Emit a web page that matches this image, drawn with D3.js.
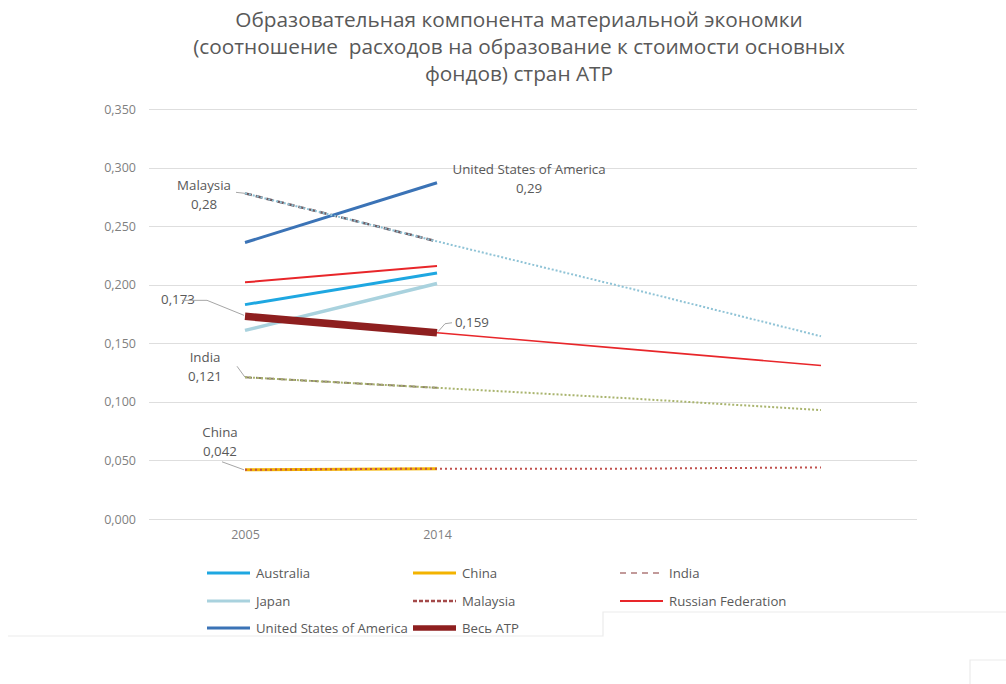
<!DOCTYPE html>
<html>
<head>
<meta charset="utf-8">
<script src="https://cdn.jsdelivr.net/npm/d3@7"></script>
<style>
  html, body { margin: 0; padding: 0; background: #fff; }
  svg { display: block; font-family: "Open Sans", "Noto Sans", sans-serif; }
</style>
</head>
<body>
<svg id="chart" width="1006" height="684"></svg>
<script>
// ---- data ----
const titleLines = [
  "Образовательная компонента материальной экономки",
  "(соотношение  расходов на образование к стоимости основных",
  "фондов) стран АТР"
];
const categories = ["2005", "2014", "p3", "p4"];
const tickLabels = ["2005", "2014"];
const yTicks = [0, 0.05, 0.10, 0.15, 0.20, 0.25, 0.30, 0.35];

const australia = [0.183, 0.210];
const china     = [0.042, 0.043];
const india     = [0.121, 0.112];
const japan     = [0.161, 0.201];
const malaysia  = [0.278, 0.237];
const russia    = [0.202, 0.216];
const usa       = [0.236, 0.287];
const apac      = [0.173, 0.159];

// trendlines (2005 .. two periods forward)
const malaysiaTrend = [0.278, 0.237, 0.197, 0.156];
const apacTrend     = [0.173, 0.159, 0.145, 0.131];
const indiaTrend    = [0.121, 0.112, 0.103, 0.093];
const chinaTrend    = [0.042, 0.043, 0.043, 0.044];

const seriesNames = ["Australia", "China", "India", "Japan", "Malaysia",
  "Russian Federation", "United States of America", "Весь АТР"];

// ---- styles ----
const styles = {
  "Australia":                {color: "#1ea7e1", width: 3,   dash: null},
  "China":                    {color: "#f3b300", width: 3,   dash: null},
  "India":                    {color: "#8c7f6a", width: 2,   dash: "7,4", legendColor: "#c29a9a", legendDash: "6,5"},
  "Japan":                    {color: "#a9d2de", width: 3.5, dash: null},
  "Malaysia":                 {color: "#6f5b62", width: 2.5, dash: "7,4", legendColor: "#a44a4a", legendDash: "4,2"},
  "Russian Federation":       {color: "#e8262a", width: 2,   dash: null},
  "United States of America": {color: "#3b73b6", width: 3,   dash: null},
  "Весь АТР":                 {color: "#8e1f1f", width: 7.5, dash: null, legendWidth: 5.5}
};
const seriesData = {
  "Australia": australia, "China": china, "India": india, "Japan": japan,
  "Malaysia": malaysia, "Russian Federation": russia,
  "United States of America": usa, "Весь АТР": apac
};
const drawOrder = ["Japan", "Australia", "Russian Federation", "Malaysia",
  "United States of America", "India", "China", "Весь АТР"];

const trends = [
  {values: malaysiaTrend, color: "#8fc3d6", width: 2, dash: "2,2", below: false},
  {values: apacTrend,     color: "#e8262a", width: 1.6, dash: null, below: true},
  {values: indiaTrend,    color: "#a9b46e", width: 2, dash: "2,2", below: false},
  {values: chinaTrend,    color: "#c0504d", width: 2, dash: "2,3", below: false}
];

// ---- layout ----
const svg = d3.select("#chart");
const x = d3.scalePoint().domain(categories).range([149, 917]).padding(0.5);
const y = d3.scaleLinear().domain([0, 0.35]).range([519, 109]);
const fmt = v => d3.format(".3f")(v).replace(".", ",");
const fmt2 = v => d3.format(".2f")(v).replace(".", ",");

// title
const title = svg.append("g");
titleLines.forEach((t, i) => {
  title.append("text")
    .attr("x", 519).attr("y", 27 + i * 27)
    .attr("text-anchor", "middle")
    .attr("fill", "#595959")
    .style("font-size", "20.8px")
    .style("white-space", "pre")
    .attr("xml:space", "preserve")
    .text(t);
});

// gridlines
svg.append("g").selectAll("line").data(yTicks).join("line")
  .attr("x1", 149).attr("x2", 917)
  .attr("y1", d => Math.round(y(d)) + 0.5).attr("y2", d => Math.round(y(d)) + 0.5)
  .attr("stroke", "#dedede").attr("stroke-width", 1.2);

// y axis
const yAxis = d3.axisLeft(y).tickValues(yTicks).tickFormat(fmt).tickSize(0).tickPadding(0);
const yg = svg.append("g").attr("transform", "translate(136,0)").call(yAxis);
yg.select(".domain").remove();
yg.selectAll("text").attr("fill", "#7f7f7f").style("font-size", "12.5px")
  .style("font-family", "'Open Sans', sans-serif");

// x axis
const xAxis = d3.axisBottom(x).tickValues(tickLabels).tickSize(0).tickPadding(0);
const xg = svg.append("g").attr("transform", "translate(0,530)").call(xAxis);
xg.select(".domain").remove();
xg.selectAll("text").attr("fill", "#7f7f7f").style("font-size", "12.5px")
  .style("font-family", "'Open Sans', sans-serif");

// lines
const line = d3.line().x((d, i) => x(categories[i])).y(d => y(d));
const lg = svg.append("g").attr("fill", "none");
function drawTrend(t) {
  lg.append("path").datum(t.values)
    .attr("d", line)
    .attr("stroke", t.color)
    .attr("stroke-width", t.width)
    .attr("stroke-dasharray", t.dash);
}
trends.filter(t => t.below).forEach(drawTrend);
drawOrder.forEach(name => {
  const s = styles[name];
  lg.append("path").datum(seriesData[name])
    .attr("d", line)
    .attr("stroke", s.color)
    .attr("stroke-width", s.width)
    .attr("stroke-dasharray", s.dash);
});
trends.filter(t => !t.below).forEach(drawTrend);

// data labels
const lab = svg.append("g").attr("fill", "#595959").style("font-size", "13.3px");
const leader = pts => svg.append("path").attr("d", d3.line()(pts))
  .attr("fill", "none").attr("stroke", "#a6a6a6").attr("stroke-width", 1);
const x0 = x("2005"), x1 = x("2014");

function label2(lines, cx, cy) {
  lines.forEach((t, i) => lab.append("text").attr("x", cx).attr("y", cy + i * 19)
    .attr("text-anchor", "middle").text(t));
}
// Malaysia
label2(["Malaysia", fmt2(malaysia[0])], x0 - 41, y(malaysia[0]) - 3);
leader([[x0 - 9, y(malaysia[0]) - 1], [x0, y(malaysia[0])]]);
// USA
label2(["United States of America", fmt2(usa[1])], x1 + 92, y(usa[1]) - 9);
// APAC 2005
lab.append("text").attr("x", x0 - 67).attr("y", y(apac[0]) - 12).attr("text-anchor", "middle").text(fmt(apac[0]));
leader([[x0 - 63, y(apac[0]) - 16], [x0 - 38, y(apac[0]) - 16], [x0 - 1, y(apac[0]) - 1]]);
// APAC 2014
lab.append("text").attr("x", x1 + 18).attr("y", y(apac[1]) - 6).text(fmt(apac[1]));
leader([[x1 + 1, y(apac[1]) - 1], [x1 + 8, y(apac[1]) - 9], [x1 + 15, y(apac[1]) - 10]]);
// India
label2(["India", fmt(india[0])], x0 - 40, y(india[0]) - 15);
leader([[x0 - 8, y(india[0]) - 11], [x0, y(india[0])]]);
// China
label2(["China", fmt(china[0])], x0 - 25, y(china[0]) - 33);
leader([[x0 - 23, y(china[0]) - 8], [x0 - 1, y(china[0])]]);

// legend
const legendCols = [207, 413, 620];
const legendRows = [573, 601, 628];
const legend = svg.append("g").style("font-size", "13.2px");
seriesNames.forEach((name, i) => {
  const s = styles[name];
  const lx = legendCols[i % 3], ly = legendRows[Math.floor(i / 3)];
  const g = legend.append("g").attr("transform", `translate(${lx},${ly})`);
  g.append("line").attr("x1", 0).attr("x2", 43).attr("y1", 0).attr("y2", 0)
    .attr("stroke", s.legendColor || s.color)
    .attr("stroke-width", s.legendWidth || Math.min(s.width, 3))
    .attr("stroke-dasharray", s.legendDash || s.dash);
  g.append("text").attr("x", 49).attr("y", 4.8).attr("fill", "#595959").text(name);
});

// faint frame remnants
const frame = svg.append("g").attr("fill", "none").attr("stroke", "#ececec").attr("stroke-width", 1.2);
frame.append("path").attr("d", "M8,636H603V612H1006");
frame.append("path").attr("d", "M970,684V660H1006");
</script>
</body>
</html>
